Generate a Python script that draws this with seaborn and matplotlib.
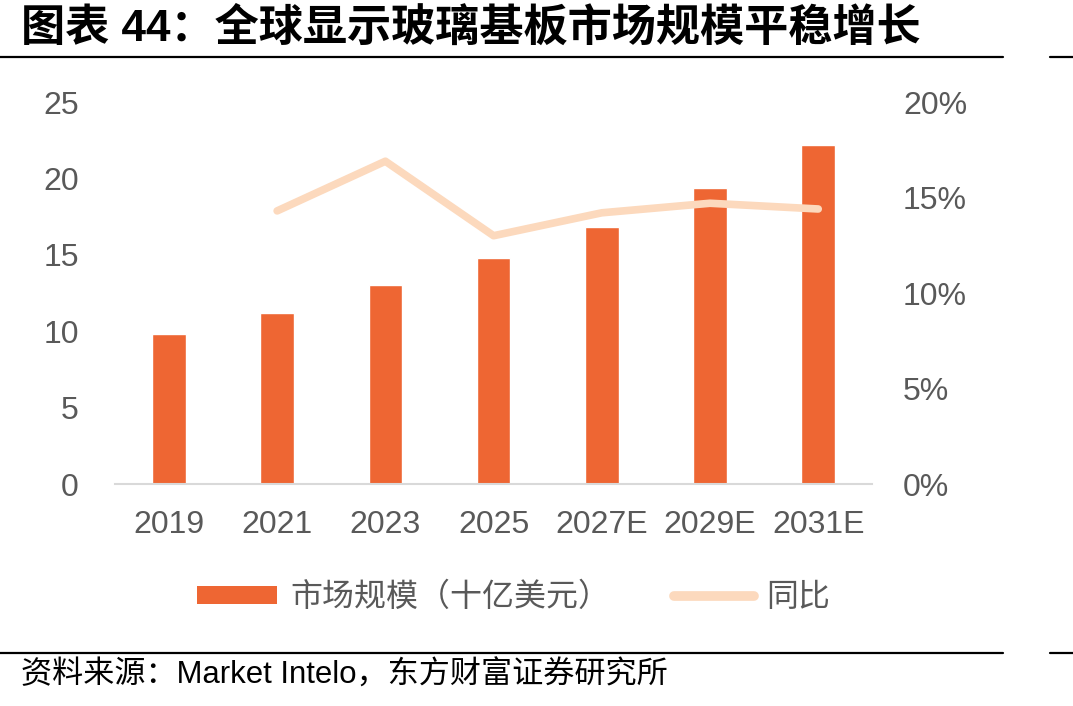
import matplotlib
matplotlib.use("Agg")
import matplotlib.pyplot as plt
from matplotlib.lines import Line2D
from matplotlib.patches import Patch
import matplotlib.ticker as mticker
import numpy as np
import pandas as pd
import seaborn as sns

# data
years = ["2019", "2021", "2023", "2025", "2027E", "2029E", "2031E"]
market_size = [9.8, 11.2, 13.0, 14.8, 16.8, 19.4, 22.2]  # 十亿美元
yoy = [np.nan, 0.143, 0.169, 0.130, 0.142, 0.147, 0.144]

title = "图表 44：全球显示玻璃基板市场规模平稳增长"
source = "资料来源：Market Intelo，东方财富证券研究所"
bar_label = "市场规模（十亿美元）"
line_label = "同比"

bar_color = "#EE6633"
line_color = "#FCD9BD"
text_gray = "#595959"


def main():
    sns.set_theme(style="white")
    plt.rcParams['font.family'] = ['Liberation Sans', 'Noto Sans CJK SC', 'DejaVu Sans']

    df = pd.DataFrame({"year": years, "size": market_size, "yoy": yoy, "pos": np.arange(len(years))})

    fig = plt.figure(figsize=(10.73, 7.06), dpi=100)
    ax = fig.add_axes([0.107, 0.3144, 0.706, 0.5411])

    sns.barplot(data=df, x="year", y="size", color=bar_color, width=0.31, saturation=1, ax=ax)
    ax.set_ylim(0, 25)
    ax.set_yticks(np.arange(0, 26, 5))
    ax.set_xlabel("")
    ax.set_ylabel("")
    for s in ["top", "right", "left"]:
        ax.spines[s].set_visible(False)
    ax.spines["bottom"].set_color("#D9D9D9")
    ax.spines["bottom"].set_linewidth(1.5)
    ax.tick_params(axis="both", length=0, labelsize=23, labelcolor=text_gray)
    ax.tick_params(axis="y", pad=26)
    ax.tick_params(axis="x", pad=19)

    ax2 = ax.twinx()
    sns.lineplot(data=df.dropna(), x="pos", y="yoy", color=line_color, linewidth=5.5,
                 solid_capstyle="round", ax=ax2)
    ax2.set_ylim(0, 0.2)
    ax2.set_yticks(np.arange(0, 0.21, 0.05))
    ax2.yaxis.set_major_formatter(mticker.FuncFormatter(lambda v, p: f"{v * 100:.0f}%"))
    ax2.set_ylabel("")
    ax2.set_xlabel("")
    for s in ["top", "right", "left", "bottom"]:
        ax2.spines[s].set_visible(False)
    ax2.tick_params(axis="y", length=0, labelsize=23, labelcolor=text_gray, pad=22)
    ax.set_xlim(-0.5, len(years) - 0.5)

    handles = [Patch(facecolor=bar_color, edgecolor="none"),
               Line2D([0], [0], color=line_color, linewidth=7, solid_capstyle="round")]
    fig.legend(handles, [bar_label, line_label], loc="center", bbox_to_anchor=(0.479, 1 - 598 / 706),
               ncol=2, frameon=False, fontsize=23, labelcolor=text_gray, handlelength=2.5,
               handleheight=0.5, columnspacing=2.0, handletextpad=0.4)

    fig.text(0.02, 1 - 29 / 706, title, fontsize=31.8, fontweight="bold", va="center", ha="left",
             family=['Liberation Sans', 'Noto Sans CJK SC'], color="black")
    fig.text(0.02, 1 - 676 / 706, source, fontsize=22.4, va="center", ha="left", color="black",
             family=['Liberation Sans', 'Noto Sans CJK SC'])

    for yy in [1 - 57 / 706, 1 - 653 / 706]:
        fig.add_artist(Line2D([0, 1003 / 1073], [yy, yy], color="black", linewidth=1.6))
        fig.add_artist(Line2D([1050 / 1073, 1], [yy, yy], color="black", linewidth=1.6))

    fig.savefig("out.png", dpi=100)


if __name__ == "__main__":
    main()
